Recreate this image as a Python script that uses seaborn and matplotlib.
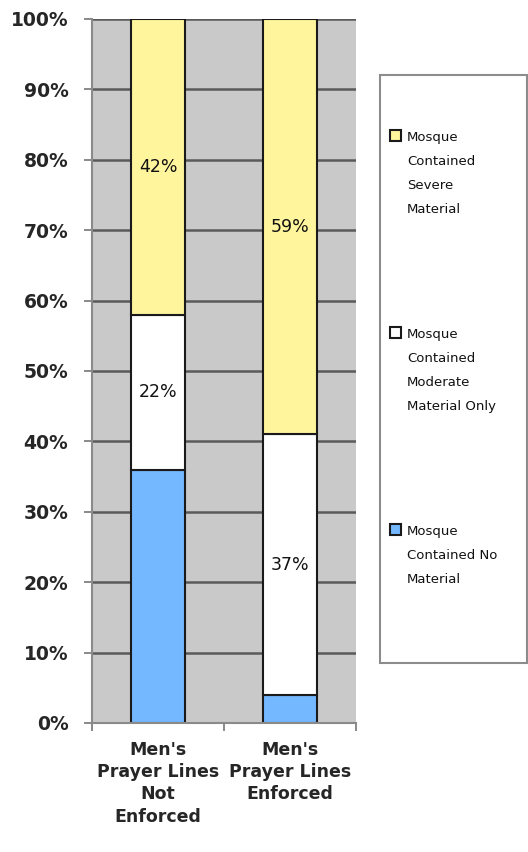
import numpy as np
import pandas as pd
import seaborn as sns
import matplotlib.pyplot as plt
from matplotlib.patches import Rectangle

# Données du graphique
groups = ["Men's\nPrayer Lines\nNot\nEnforced", "Men's\nPrayer Lines\nEnforced"]
no_material = [36, 4]
moderate_only = [22, 37]
severe = [42, 59]

series_names = ["Mosque\nContained No\nMaterial",
                "Mosque\nContained\nModerate\nMaterial Only",
                "Mosque\nContained\nSevere\nMaterial"]
series_values = [no_material, moderate_only, severe]
show_labels = [False, True, True]
colors = ['#74B8FF', '#FFFFFF', '#FFF59D']

sns.set_style('ticks')
plt.rcParams['font.family'] = ['DejaVu Sans']

W, H = 528, 852
fig = plt.figure(figsize=(W / 100, H / 100), dpi=100)
ax = fig.add_axes([92 / W, 1 - 723 / H, 264 / W, 704 / H])
ax.set_facecolor('#C9C9C9')

# Barres empilées
bottom = np.zeros(len(groups))
for vals, color, lab in zip(series_values, colors, show_labels):
    df = pd.DataFrame({'group': groups, 'value': vals})
    sns.barplot(data=df, x='group', y='value', color=color, saturation=1,
                bottom=bottom.copy(), width=0.415, errorbar=None,
                edgecolor='#1a1a1a', linewidth=1.5, ax=ax)
    if lab:
        ax.bar_label(ax.containers[-1], labels=[f'{v}%' for v in vals],
                     label_type='center', fontsize=12.5, color='#111111')
    bottom += np.array(vals)

# Axes
ax.set_ylim(0, 100)
ax.set_xlim(-0.5, 1.5)
ax.set_yticks(range(0, 101, 10))
ax.set_yticklabels([f'{v}%' for v in range(0, 101, 10)])
ax.set(xlabel='', ylabel='')
ax.set_axisbelow(True)
ax.yaxis.grid(True, color='#5A5A5A', linewidth=1.8)

ax.tick_params(axis='y', length=6, width=1.3, color='#808080', pad=11, labelsize=13.5)
ax.tick_params(axis='x', which='major', length=0, pad=13, labelsize=12.5)
ax.set_xticks([-0.5, 0.5, 1.5], minor=True)
ax.tick_params(axis='x', which='minor', length=6, width=1.3, color='#808080')
for t in ax.get_yticklabels():
    t.set_fontweight('bold')
for t in ax.get_xticklabels():
    t.set_fontweight('bold')
    t.set_linespacing(1.3)

sns.despine(ax=ax)
for s in ['left', 'bottom']:
    ax.spines[s].set_color('#8a8a8a')
    ax.spines[s].set_linewidth(1.5)

# Légende (boîte à droite)
fig.add_artist(Rectangle((380 / W, 1 - 663 / H), 147 / W, 588 / H,
                         transform=fig.transFigure, fill=False,
                         edgecolor='#8c8c8c', linewidth=1.5))
for i, (name, color) in enumerate(zip(series_names[::-1], colors[::-1])):
    top = 130 + i * 197
    fig.add_artist(Rectangle((390 / W, 1 - (top + 11) / H), 11 / W, 11 / H,
                             transform=fig.transFigure, facecolor=color,
                             edgecolor='#1a1a1a', linewidth=1.5))
    fig.text(407 / W, 1 - (top + 1) / H, name, fontsize=9.5, va='top',
             ha='left', linespacing=2.1, color='#111111')

fig.savefig('out.png', dpi=100)
